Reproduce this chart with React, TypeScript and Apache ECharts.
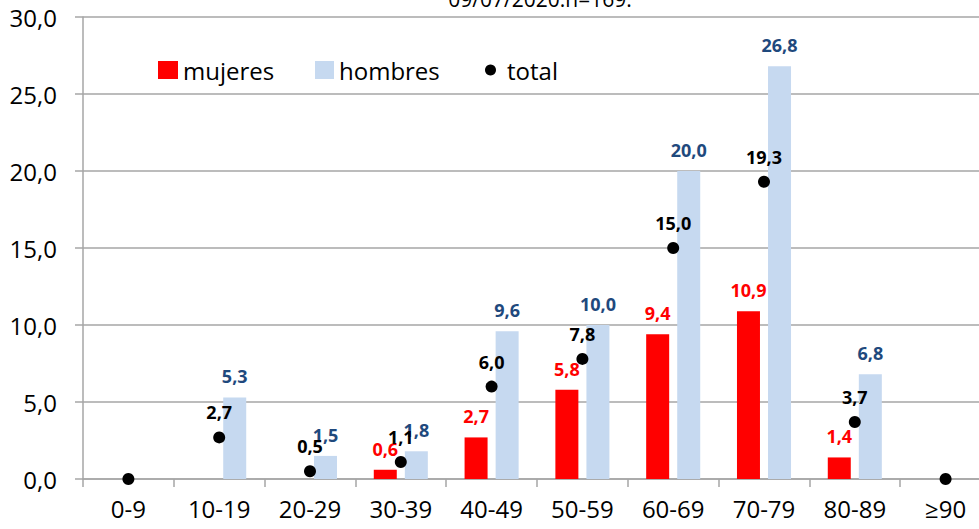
import React, { useEffect, useRef } from "react";
import * as echarts from "echarts";

const categories = ["0-9", "10-19", "20-29", "30-39", "40-49", "50-59", "60-69", "70-79", "80-89", "≥90"];
const mujeres: (number | null)[] = [null, null, null, 0.6, 2.7, 5.8, 9.4, 10.9, 1.4, null];
const hombres: (number | null)[] = [null, 5.3, 1.5, 1.8, 9.6, 10.0, 20.0, 26.8, 6.8, null];
const total: number[] = [0, 2.7, 0.5, 1.1, 6.0, 7.8, 15.0, 19.3, 3.7, 0];
const yTicks = { min: 0, max: 30, interval: 5 };
const titleText = "09/07/2020.n=169.";

const fmt = (v: number) => v.toFixed(1).replace(".", ",");
const FONT = "'Open Sans', 'Noto Sans', sans-serif";

export default function App() {
  const ref = useRef<HTMLDivElement>(null);
  useEffect(() => {
    if (!ref.current) return;
    const chart = echarts.init(ref.current, null, { renderer: "svg" });
    const gridColor = "#A6A6A6";
    chart.setOption({
      animation: false,
      backgroundColor: "#ffffff",
      textStyle: { fontFamily: FONT },
      graphic: [
        {
          type: "text",
          x: 540,
          y: -1,
          style: {
            text: titleText,
            fontFamily: FONT,
            fontSize: 21,
            fill: "#000",
            align: "center",
            verticalAlign: "middle",
          },
        },
      ],
      legend: [
        {
          data: ["mujeres"],
          left: 158,
          top: 58,
          padding: 0,
          itemWidth: 20,
          itemHeight: 18,
          itemGap: 5,
          icon: "rect",
          textStyle: { fontSize: 24, fontFamily: FONT, color: "#000" },
        },
        {
          data: ["hombres"],
          left: 315,
          top: 58,
          padding: 0,
          itemWidth: 19,
          itemHeight: 18,
          icon: "rect",
          textStyle: { fontSize: 24, fontFamily: FONT, color: "#000" },
        },
        {
          data: ["total"],
          left: 485,
          top: 58,
          padding: 0,
          itemWidth: 11,
          itemHeight: 11,
          icon: "circle",
          itemGap: 5,
          itemStyle: { color: "#000", opacity: 1 },
          textStyle: { fontSize: 24, fontFamily: FONT, color: "#000", padding: [0, 0, 0, 6] },
        },
      ],
      grid: { left: 83, width: 908, top: 17, bottom: 50, outerBoundsMode: "none" },
      xAxis: {
        type: "category",
        data: categories,
        boundaryGap: true,
        axisLine: { show: true, lineStyle: { color: gridColor, width: 1.5 } },
        axisTick: { show: true, length: 8, alignWithLabel: false, lineStyle: { color: gridColor, width: 1.5 } },
        axisLabel: { fontSize: 24, color: "#000", margin: 17, fontFamily: FONT },
      },
      yAxis: {
        type: "value",
        min: yTicks.min,
        max: yTicks.max,
        interval: yTicks.interval,
        axisLine: { show: true, lineStyle: { color: gridColor, width: 1.5 } },
        axisTick: { show: true, length: 8, lineStyle: { color: gridColor, width: 1.5 } },
        splitLine: { show: true, lineStyle: { color: gridColor, width: 1.5 } },
        axisLabel: { fontSize: 24, color: "#000", margin: 26, fontFamily: FONT, formatter: (v: number) => fmt(v) },
      },
      series: [
        {
          name: "mujeres",
          type: "bar",
          data: mujeres,
          barWidth: 23,
          barGap: "35%",
          itemStyle: { color: "#FF0000" },
          label: {
            show: true,
            position: "top",
            distance: 12,
            color: "#FF0000",
            fontWeight: "bold",
            fontSize: 18,
            fontFamily: FONT,
            formatter: (p: any) => (p.value == null ? "" : fmt(p.value)),
          },
        },
        {
          name: "hombres",
          type: "bar",
          data: hombres,
          barWidth: 23,
          barGap: "35%",
          itemStyle: { color: "#C6D9F0" },
          label: {
            show: true,
            position: "top",
            distance: 12,
            color: "#1F497D",
            fontWeight: "bold",
            fontSize: 18,
            fontFamily: FONT,
            formatter: (p: any) => (p.value == null ? "" : fmt(p.value)),
          },
        },
        {
          name: "total",
          type: "scatter",
          data: total,
          symbol: "circle",
          symbolSize: 12,
          itemStyle: { color: "#000", opacity: 1 },
          z: 5,
          label: {
            show: true,
            position: "top",
            distance: 10,
            color: "#000",
            fontWeight: "bold",
            fontSize: 18,
            fontFamily: FONT,
            formatter: (p: any) => (p.value ? fmt(p.value) : ""),
          },
        },
      ],
    });
    return () => chart.dispose();
  }, []);
  return <div ref={ref} style={{ position: "fixed", left: 0, top: 0, width: 979, height: 529 }} />;
}
